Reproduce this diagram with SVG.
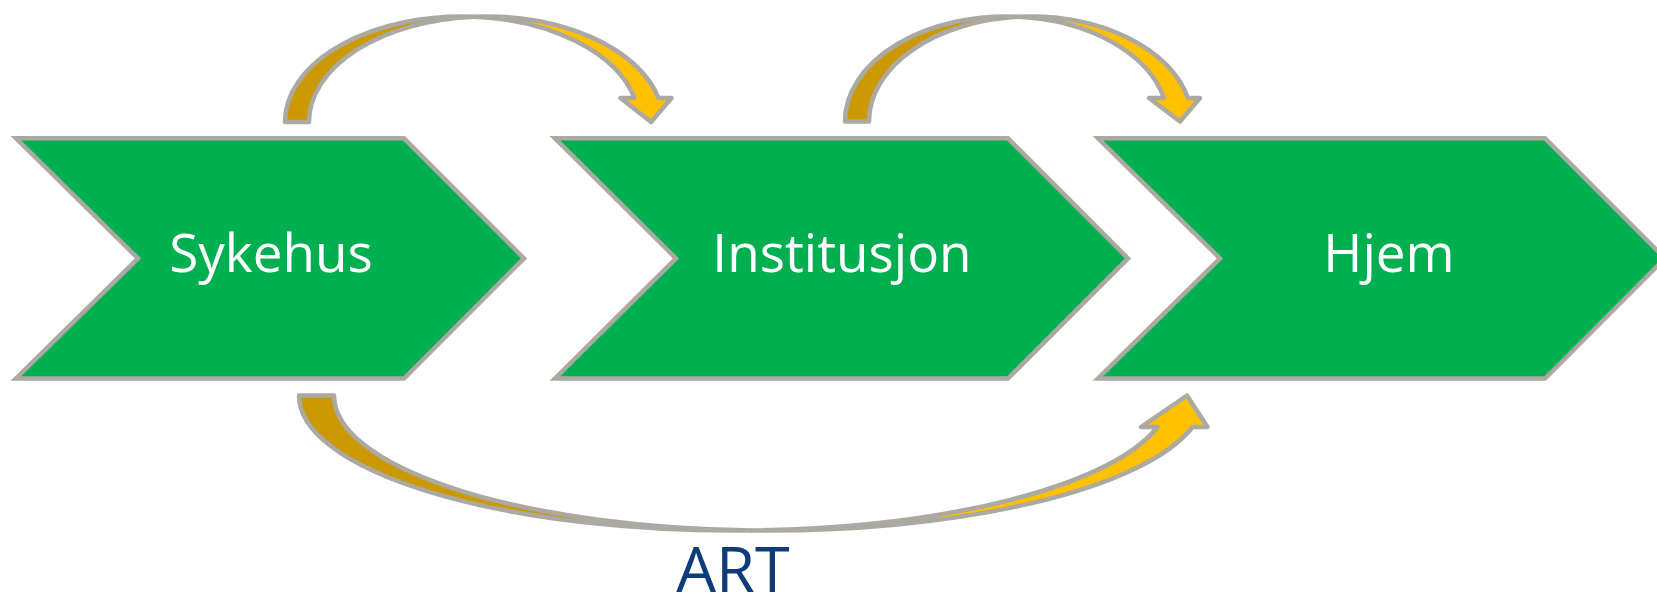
<svg xmlns="http://www.w3.org/2000/svg" width="1657" height="596" viewBox="0 0 1657 596">
  <style>
    .chev { fill: #00B050; stroke: #ABA9A2; stroke-width: 4.5; stroke-linejoin: miter; }
    .lbl { font-family: "Open Sans", "Noto Sans", "DejaVu Sans", sans-serif; font-size: 53px; fill: #FFFFFF; text-anchor: middle; }
    .art { font-family: "Open Sans", "Noto Sans", "DejaVu Sans", sans-serif; font-size: 63px; fill: #0D3C78; text-anchor: middle; }
    .back { fill: #CC9900; stroke: #ABA9A2; stroke-width: 4.5; stroke-linejoin: round; }
    .front { fill: #FFC000; stroke: #ABA9A2; stroke-width: 4.5; stroke-linejoin: round; }
  </style>
  <rect width="1657" height="596" fill="#FFFFFF"/>

  <g id="node-sykehus">
    <polygon class="chev" points="16,138.3 404,138.3 524,258.4 404,378.5 16,378.5 138,258.4"/>
    <text class="lbl" x="271" y="272">Sykehus</text>
  </g>
  <g id="node-institusjon">
    <polygon class="chev" points="555,138.3 1008,138.3 1128,258.4 1008,378.5 555,378.5 676,258.4"/>
    <text class="lbl" x="842" y="272">Institusjon</text>
  </g>
  <g id="node-hjem">
    <polygon class="chev" points="1098,138.3 1545,138.3 1665,258.4 1545,378.5 1098,378.5 1220,258.4"/>
    <text class="lbl" x="1389" y="272">Hjem</text>
  </g>

  <g id="connectors">
    <g id="arrow-sykehus-institusjon">
      <path class="back" d="M474,16.74 A177,105.5 0 0 0 309,122 L285,122 A177,105.5 0 0 1 474,16.74 Z"/>
      <path class="front" d="M474,16.74 A177,105.5 0 0 1 658.4,98 L671.5,98 L651,122 L620.5,98 L634.4,98 A177,105.5 0 0 0 474,16.74 Z"/>
    </g>
    <g id="arrow-institusjon-hjem">
      <path class="back" d="M1018.5,16.79 A161.5,105 0 0 0 869,121.5 L845,121.5 A161.5,105 0 0 1 1018.5,16.79 Z"/>
      <path class="front" d="M1018.5,16.79 A161.5,105 0 0 1 1187.9,98 L1200,98 L1180,121.5 L1149,98 L1163.9,98 A161.5,105 0 0 0 1018.5,16.79 Z"/>
    </g>
    <g id="arrow-sykehus-hjem">
      <path class="back" d="M751.75,530.39 A435.25,135 0 0 1 334,395.5 L299,395.5 A435.25,135 0 0 0 751.75,530.39 Z"/>
      <path class="front" d="M751.75,530.39 A435.25,135 0 0 0 1192.5,427 L1207.5,427 L1187,395.5 L1141,427 L1157.5,427 A435.25,135 0 0 1 751.75,530.39 Z"/>
    </g>
  </g>

  <text id="label-art" class="art" x="733" y="592">ART</text>
</svg>
